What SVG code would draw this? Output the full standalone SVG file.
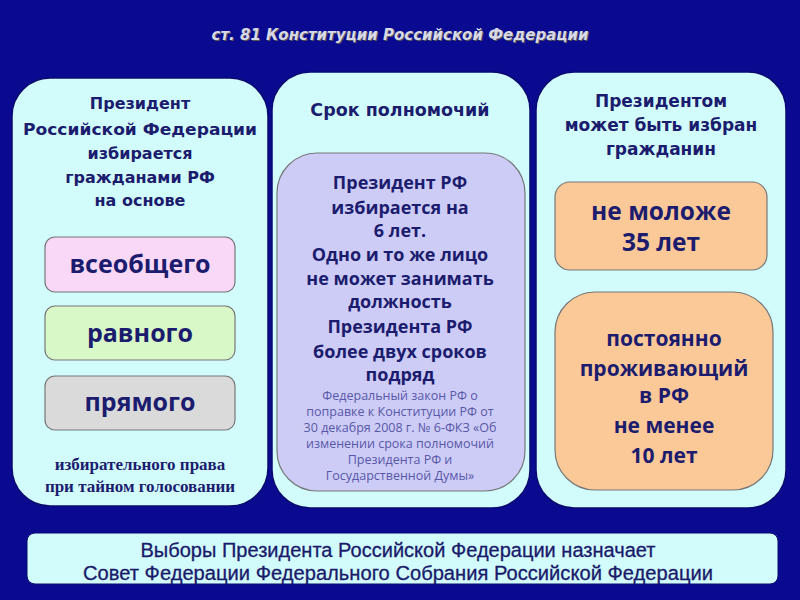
<svg xmlns="http://www.w3.org/2000/svg" width="800" height="600" viewBox="0 0 800 600">
<defs>
<style>
.panel{fill:#d2fcfc;stroke:#0a0a70;stroke-width:1.5}
.box{stroke:#777;stroke-width:1.2}
.h{font-family:"DejaVu Sans",Verdana,sans-serif;font-weight:bold;fill:#1c1c6e;text-anchor:middle;font-size:16px}
.m{font-family:"Open Sans","DejaVu Sans",sans-serif;font-weight:bold;fill:#1c1c6e;text-anchor:middle}
.s{font-family:"Open Sans","DejaVu Sans",sans-serif;fill:#5858a8;text-anchor:middle;font-size:12.5px}
.ser{font-family:"Liberation Serif","Times New Roman",serif;font-weight:bold;fill:#1c1c6e;text-anchor:middle;font-size:17px}
.b{font-family:"Liberation Sans",Arial,sans-serif;fill:#1a1a6a;text-anchor:middle;font-size:20px;stroke:#1a1a6a;stroke-width:0.3}
</style>
</defs>
<rect x="0" y="0" width="800" height="600" fill="#0a0a90"/>
<g id="title">
<text x="401" y="41" font-family="'DejaVu Sans',Verdana,sans-serif" font-weight="bold" font-style="italic" font-size="15" fill="#555" text-anchor="middle">ст. 81 Конституции Российской Федерации</text>
<text x="400" y="40" font-family="'DejaVu Sans',Verdana,sans-serif" font-weight="bold" font-style="italic" font-size="15" fill="#d8d8e8" text-anchor="middle">ст. 81 Конституции Российской Федерации</text>
</g>
<g id="left-panel">
<rect class="panel" x="12" y="78" width="256" height="428" rx="38"/>
<text class="h" x="140" y="109">Президент</text>
<text class="h" x="140" y="135" textLength="234" lengthAdjust="spacingAndGlyphs">Российской Федерации</text>
<text class="h" x="140" y="159">избирается</text>
<text class="h" x="140" y="183">гражданами РФ</text>
<text class="h" x="140" y="206">на основе</text>
<text class="ser" x="140" y="470">избирательного права</text>
<text class="ser" x="140" y="492">при тайном голосовании</text>
</g>
<g id="box-universal">
<rect class="box" x="45" y="237" width="190" height="55" rx="10" fill="#f8d8f6"/>
<text class="m" x="140" y="273" font-size="25">всеобщего</text>
</g>
<g id="box-equal">
<rect class="box" x="45" y="306" width="190" height="54" rx="10" fill="#d8f8c8"/>
<text class="m" x="140" y="342" font-size="25">равного</text>
</g>
<g id="box-direct">
<rect class="box" x="45" y="376" width="190" height="54" rx="10" fill="#dadada"/>
<text class="m" x="140" y="411" font-size="25">прямого</text>
</g>
<g id="middle-panel">
<rect class="panel" x="272" y="72" width="258" height="436" rx="38"/>
<text class="h" x="400" y="116" font-size="17.5" style="font-size:17.5px">Срок полномочий</text>
</g>
<g id="term-box">
<rect class="box" x="277" y="153" width="248" height="338" rx="40" fill="#cdccf6"/>
<text class="m" x="400" y="189" font-size="18">Президент РФ</text>
<text class="m" x="400" y="214" font-size="18">избирается на</text>
<text class="m" x="400" y="237" font-size="18">6 лет.</text>
<text class="m" x="400" y="261" font-size="18">Одно и то же лицо</text>
<text class="m" x="400" y="285" font-size="18">не может занимать</text>
<text class="m" x="400" y="308" font-size="18">должность</text>
<text class="m" x="400" y="333" font-size="18">Президента РФ</text>
<text class="m" x="400" y="358" font-size="18">более двух сроков</text>
<text class="m" x="400" y="381" font-size="18">подряд</text>
<text class="s" x="400" y="400">Федеральный закон РФ о</text>
<text class="s" x="400" y="416">поправке к Конституции РФ от</text>
<text class="s" x="400" y="432">30 декабря 2008 г. № 6-ФКЗ «Об</text>
<text class="s" x="400" y="448">изменении срока полномочий</text>
<text class="s" x="400" y="464">Президента РФ и</text>
<text class="s" x="400" y="480">Государственной Думы»</text>
</g>
<g id="right-panel">
<rect class="panel" x="536" y="72" width="250" height="436" rx="38"/>
<text class="h" x="661" y="107" style="font-size:17px">Президентом</text>
<text class="h" x="661" y="131" style="font-size:17px">может быть избран</text>
<text class="h" x="661" y="155" style="font-size:17px">гражданин</text>
</g>
<g id="box-age">
<rect class="box" x="555" y="182" width="212" height="88" rx="15" fill="#fbc898"/>
<text class="m" x="661" y="220" font-size="24.5">не моложе</text>
<text class="m" x="661" y="251" font-size="24.5">35 лет</text>
</g>
<g id="box-residence">
<rect class="box" x="555" y="292" width="218" height="198" rx="40" fill="#fbc898"/>
<text class="m" x="664" y="346" font-size="21">постоянно</text>
<text class="m" x="664" y="376" font-size="21">проживающий</text>
<text class="m" x="664" y="403" font-size="21">в РФ</text>
<text class="m" x="664" y="433" font-size="21">не менее</text>
<text class="m" x="664" y="463" font-size="21">10 лет</text>
</g>
<g id="bottom-box">
<rect x="27" y="533" width="751" height="51" rx="8" fill="#d2fcfc" stroke="#0a0a70"/>
<text class="b" x="398" y="557" textLength="515" lengthAdjust="spacingAndGlyphs">Выборы Президента Российской Федерации назначает</text>
<text class="b" x="398" y="580" textLength="630" lengthAdjust="spacingAndGlyphs">Совет Федерации Федерального Собрания Российской Федерации</text>
</g>
<g id="connectors"></g>
</svg>
